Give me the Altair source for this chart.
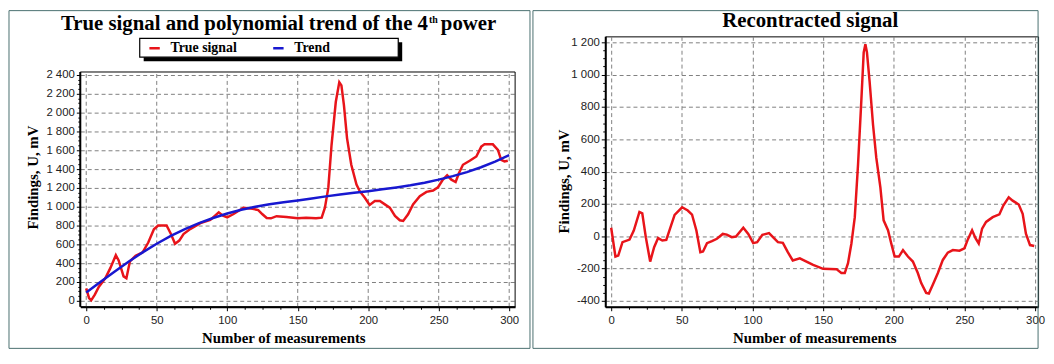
import altair as alt
import pandas as pd

# ---------------- data ----------------
true_x = [0, 2, 3.5, 6, 9, 13.5, 17, 21, 23, 26.5, 28.5, 31, 35, 40, 44, 48, 51, 57, 60, 63,
          66, 69, 74, 81, 88, 94, 97, 100, 104.5, 111.5, 118, 122, 125, 128, 131, 135, 142, 150, 156, 163,
          167, 169.3, 171.7, 174, 177, 179.5, 181, 182.8, 185, 188, 191.7, 194, 197.6, 201, 204.7, 208.3,
          211.8, 215.3, 219, 222.4, 224.8, 228.3, 231.8, 236.6, 241.3, 246, 249.5, 253, 256, 259,
          262, 264.4, 267.2, 272, 276.7, 280.2, 282.5, 288.4, 292, 294.3, 296.7, 299]
true_y = [133, 28, 5, 63, 150, 240, 345, 485, 430, 260, 240, 420, 480, 515, 620, 760, 800, 800, 713, 607,
          640, 710, 765, 825, 860, 940, 905, 888, 923, 990, 978, 965, 920, 880, 877, 900, 890, 877, 884, 877,
          884, 990, 1200, 1656, 2113, 2323, 2290, 2078, 1727, 1446, 1235, 1165, 1095, 1018, 1060, 1060,
          1025, 990, 902, 856, 849, 919, 1025, 1112, 1158, 1172, 1207, 1288, 1334, 1288,
          1263, 1358, 1446, 1488, 1534, 1639, 1663, 1663, 1604, 1499, 1481, 1488]

trend_x = [0, 10, 20, 30, 40, 50, 60, 70, 80, 90, 100, 110, 120, 130, 140, 150, 160, 170, 180, 190,
           200, 210, 220, 230, 240, 250, 260, 270, 280, 290, 300]
trend_y = [88, 200, 310, 415, 515, 607, 690, 763, 825, 880, 928, 968, 1000, 1027, 1048, 1066, 1087, 1110,
           1130, 1148, 1165, 1185, 1205, 1228, 1255, 1288, 1325, 1368, 1420, 1480, 1548]

rec_x = [0, 3, 5, 8, 13, 16, 20, 22, 24.5, 27.6, 30.4, 33.2, 36.2, 39, 42, 44.9, 50.2, 54.2, 57.2, 60.3,
         63.1, 65, 67.8, 71.3, 74.8, 79, 81.8, 85.3, 88.3, 93.5, 97, 100.5, 103.3, 107, 111.7, 114.5, 118,
         121.5, 125, 128.5, 133.5, 138.2, 142.9, 150, 159.4, 162.9, 165.3, 167.6, 170, 172.4, 174.7, 177.1,
         178.7, 179.9, 181, 182.9, 185.3, 187.6, 190.5, 192.8, 195.9, 198.2, 200.6, 203.6, 206.5, 210,
         213.5, 217, 219.4, 222.9, 224.8, 227.6, 231.2, 234.7, 238.2, 241.8, 246.5, 250, 252.4, 255.4,
         257.9, 260.1, 262.5, 265.3, 270, 274.7, 277.5, 281.3, 284.1, 288.4, 291.2, 293.5, 296.4, 299.4]
rec_y = [52, -126, -120, -37, -21, 35, 150, 142, -6, -157, -68, -12, -27, -23, 56, 132, 179, 159, 134, 35,
         -99, -95, -43, -31, -16, 14, 10, -6, -2, 52, 14, -43, -37, 8, 19, -6, -37, -41, -99, -150,
         -137, -157, -178, -202, -204, -228, -228, -167, -45, 118, 445, 853, 1138, 1189, 1138, 955, 690,
         486, 302, 98, 37, -45, -126, -126, -86, -126, -157, -228, -290, -351, -355, -300, -228, -147,
         -102, -86, -90, -75, -20, 37, -14, -45, 47, 88, 118, 135, 190, 241, 220, 196, 139, 16, -55, -61]

series_names = ["True signal", "Trend"]
x_major = [0, 50, 100, 150, 200, 250, 300]
x_ticks = [0, 12.5, 25, 37.5, 50, 62.5, 75, 87.5, 100, 112.5, 125, 137.5, 150, 162.5, 175, 187.5,
           200, 212.5, 225, 237.5, 250, 262.5, 275, 287.5, 300]
left_y_ticks = [0, 50, 100, 150, 200, 250, 300, 350, 400, 450, 500, 550, 600, 650, 700, 750, 800, 850,
                900, 950, 1000, 1050, 1100, 1150, 1200, 1250, 1300, 1350, 1400, 1450, 1500, 1550, 1600,
                1650, 1700, 1750, 1800, 1850, 1900, 1950, 2000, 2050, 2100, 2150, 2200, 2250, 2300, 2350, 2400]
right_y_ticks = [-400, -350, -300, -250, -200, -150, -100, -50, 0, 50, 100, 150, 200, 250, 300, 350, 400,
                 450, 500, 550, 600, 650, 700, 750, 800, 850, 900, 950, 1000, 1050, 1100, 1150, 1200]

left_title = "True signal and polynomial trend of the 4"
left_title_sup = "th"
left_title_end = "power"
right_title = "Recontracted signal"
x_title = "Number of measurements"
y_title = "Findings, U, mV"

# ---------------- styling ----------------
SERIF = "Liberation Serif"
SANS = "Liberation Sans"
RED = "#e8141a"
BLUE = "#1818d0"
GRID = "#808080"

df_true = pd.DataFrame({"x": true_x, "y": true_y, "series": series_names[0]})
df_trend = pd.DataFrame({"x": trend_x, "y": trend_y, "series": series_names[1]})
df_rec = pd.DataFrame({"x": rec_x, "y": rec_y})
df_xgrid = pd.DataFrame({"x": x_major})
one = alt.Data(values=[{"k": 1}])


def x_axis(title_x, grid=True):
    if grid:
        kw = dict(grid=True, gridColor=GRID, gridDash=[4, 3], gridWidth=1,
                  gridOpacity={"condition": {"test": "datum.value % 50 === 0", "value": 1}, "value": 0})
    else:
        kw = dict(grid=False)
    return alt.Axis(
        values=x_ticks, tickCount=200,
        labelExpr="datum.value % 50 === 0 ? datum.label : ''",
        labelOverlap=False, labelFlush=False,
        tickSize={"condition": {"test": "datum.value % 50 === 0", "value": 4}, "value": 2.5},
        tickColor="black", tickWidth=1,
        domainColor="black", domainWidth=2,
        labelFont=SANS, labelFontSize=11.5, labelColor="#222", labelPadding=4,
        title=x_title, titleFont=SERIF, titleFontSize=15, titleFontWeight="bold", titleColor="black",
        titleX=title_x, titleY=31, titleBaseline="middle", titleAlign="center",
        **kw,
    )


def y_axis(values, major, title_x, title_y, domain=True):
    return alt.Axis(
        values=values, tickCount=200,
        labelExpr=f"datum.value % {major} === 0 ? replace(replace(format(datum.value, ','), ',', ' '), '\u2212', '-') : ''",
        labelOverlap=False, labelFlush=False,
        grid=True, gridColor=GRID, gridDash=[4, 3], gridWidth=1,
        gridOpacity={"condition": {"test": f"datum.value % {major} === 0", "value": 1}, "value": 0},
        tickSize={"condition": {"test": f"datum.value % {major} === 0", "value": 4}, "value": 2.5},
        tickColor="black", tickWidth=1,
        domain=domain, domainColor="black", domainWidth=2,
        labelFont=SANS, labelFontSize=11.5, labelColor="#222", labelPadding=2,
        title=y_title, titleFont=SERIF, titleFontSize=15, titleFontWeight="bold", titleColor="black",
        titleAngle=270, titleX=title_x, titleY=title_y, titleBaseline="middle", titleAlign="center",
    )


def frame(x1, x2, y1, y2):
    return alt.Chart(one).mark_rect(fill="transparent", stroke="#4a6f6f", strokeWidth=1).encode(
        x=alt.value(x1), x2=alt.value(x2), y=alt.value(y1), y2=alt.value(y2))


def text(t, x, y, size, align="center", weight="bold", font=SERIF):
    return alt.Chart(one).mark_text(text=t, font=font, fontSize=size, fontWeight=weight,
                                    align=align, baseline="alphabetic", color="black").encode(
        x=alt.value(x), y=alt.value(y))


# ---------------- left panel ----------------
# the view spans the same height as the right panel; the plot box itself covers y from -63 to 2432
LW, LH = 439, 273
LX0, LX1 = -4.2, 304.2
LY0, LY1 = -63.2, 2432
lx = alt.X("x:Q", scale=alt.Scale(domain=[LX0, LX1], nice=False, zero=False), axis=x_axis(205, grid=False))
ly = alt.Y("y:Q", scale=alt.Scale(domain=[LY0, 2810.5], nice=False, zero=False),
           axis=y_axis(left_y_ticks, 200, -48, 142, domain=False))
legend = alt.Legend(orient="none", legendX=68, legendY=5, direction="horizontal", title=None,
                    symbolType="stroke", symbolStrokeWidth=2.5, symbolSize=110,
                    labelFont=SERIF, labelFontSize=14, labelFontWeight="bold", labelColor="black",
                    columnPadding=30, labelOffset=9, padding=0)
color = alt.Color("series:N", scale=alt.Scale(domain=series_names, range=[RED, BLUE]), legend=legend)

xgrid = alt.Chart(df_xgrid).mark_rule(color=GRID, strokeDash=[4, 3], strokeWidth=1).encode(
    x=alt.X("x:Q"), y=alt.datum(LY0), y2=alt.datum(LY1))
plot_box = alt.Chart(one).mark_rect(fill="transparent", stroke="black", strokeWidth=1).encode(
    x=alt.datum(LX0), x2=alt.datum(LX1), y=alt.datum(LY1), y2=alt.datum(LY0))
left_domain = alt.Chart(one).mark_rule(color="black", strokeWidth=2).encode(
    x=alt.datum(LX0), y=alt.datum(LY0), y2=alt.datum(LY1))

true_line = alt.Chart(df_true).mark_line(strokeWidth=2.5, clip=True).encode(
    x=lx, y=ly, color=color, order=alt.Order("x:Q"))
trend_line = alt.Chart(df_trend).mark_line(strokeWidth=2.5, clip=True).encode(
    x=lx, y=ly, color=color, order=alt.Order("x:Q"))

shadow = alt.Chart(one).mark_rect(fill="black").encode(
    x=alt.value(64), x2=alt.value(325), y=alt.value(6), y2=alt.value(25))
box = alt.Chart(one).mark_rect(fill="white", stroke="black", strokeWidth=1.2).encode(
    x=alt.value(60), x2=alt.value(321), y=alt.value(2), y2=alt.value(21))

left = alt.layer(
    frame(-72, 454, -26, 315),
    xgrid,
    true_line, trend_line,
    plot_box, left_domain,
    shadow, box,
    text(left_title, 351, -6, 21, align="right"),
    text(left_title_sup, 352, -14, 10, align="left"),
    text(left_title_end, 364, -6, 21, align="left"),
).properties(width=LW, height=LH, view=alt.ViewBackground(stroke="transparent"))

# ---------------- right panel ----------------
RW, RH = 437, 273
rx = alt.X("x:Q", scale=alt.Scale(domain=[-4.2, 302.1], nice=False, zero=False), axis=x_axis(211))
ry = alt.Y("y:Q", scale=alt.Scale(domain=[-437, 1237], nice=False, zero=False),
           axis=y_axis(right_y_ticks, 200, -42, 146))
rec_line = alt.Chart(df_rec).mark_line(strokeWidth=2.5, clip=True, color=RED).encode(
    x=rx, y=ry, order=alt.Order("x:Q"))

right = alt.layer(
    frame(-73, 437, -26, 315),
    rec_line,
    text(right_title, 207, -9, 21),
).properties(width=RW, height=RH, view=alt.ViewBackground(stroke="black", strokeWidth=1))

chart = alt.hconcat(left, right, spacing=1).resolve_scale(
    x="independent", y="independent", color="independent"
).properties(padding=0, background="white")

chart.save("out.html", embed_options={"renderer": "svg", "actions": False})
